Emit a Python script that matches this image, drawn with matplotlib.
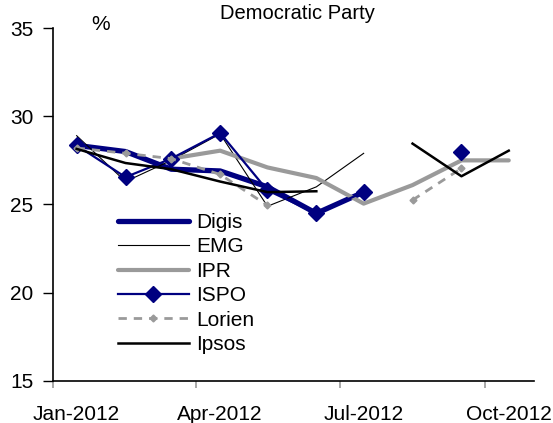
import numpy as np
import matplotlib
matplotlib.use('Agg')
from matplotlib import pyplot as plt
import matplotlib.dates as mdates

plt.rcParams['font.family'] = ['Liberation Sans', 'DejaVu Sans']

months = np.array(['2012-%02d-16' % m for m in range(1, 11)], dtype='datetime64[D]')
nan = np.nan
digis = [28.35, 28.0, 27.0, 26.9, 26.0, 24.5, 25.7, nan, nan, nan]
emg = [28.9, 26.3, 27.5, 29.0, 24.9, 26.0, 27.9, nan, nan, nan]
ipr = [nan, nan, 27.6, 28.05, 27.1, 26.5, 25.05, 26.1, 27.5, 27.5]
ispo = [28.35, 26.55, 27.6, 29.05, 25.8, 24.5, 25.7, nan, 28.0, nan]
lorien = [28.2, 27.9, 27.6, 26.7, 24.95, nan, nan, 25.25, 27.05, nan]
ipsos = [28.15, 27.35, 27.0, 26.3, 25.7, 25.75, nan, 28.45, 26.6, 28.05]

navy = '#000080'
grey = '#9a9a9a'

fig = plt.figure(figsize=(5.53, 4.23), dpi=100)
ax = fig.add_axes([0.0958, 0.0993, 0.8698, 0.8345])

ax.plot(months, digis, color=navy, lw=3.8, solid_capstyle='round', label='Digis')
ax.plot(months, emg, color='black', lw=0.8, label='EMG')
ax.plot(months, ipr, color=grey, lw=3.0, solid_capstyle='round', label='IPR')
ax.plot(months, ispo, color=navy, lw=1.6, marker='D', ms=8, label='ISPO')
ax.plot(months, lorien, color=grey, lw=2.0, ls=(0, (3, 2.5)), marker='D', ms=3.5,
        label='Lorien')
ax.plot(months, ipsos, color='black', lw=1.8, label='Ipsos')

ax.set_xlim(np.datetime64('2012-01-01'), np.datetime64('2012-11-01'))
ax.set_ylim(15, 35)
ax.set_yticks([15, 20, 25, 30, 35])

# ticks on month boundaries, labels centred in the month
ax.xaxis.set_major_locator(mdates.MonthLocator(bymonth=[1, 4, 7, 10]))
ax.xaxis.set_major_formatter(plt.NullFormatter())
ax.xaxis.set_minor_locator(mdates.MonthLocator(bymonth=[1, 4, 7, 10], bymonthday=16))
ax.xaxis.set_minor_formatter(mdates.DateFormatter('%b-%Y'))

for s in ['top', 'right']:
    ax.spines[s].set_visible(False)
ax.spines['left'].set_linewidth(1.2)
ax.spines['bottom'].set_linewidth(1.2)
ax.tick_params(axis='y', length=7, width=1, labelsize=15, pad=7)
ax.tick_params(axis='x', which='major', length=5, width=1.2, color='#999999')
ax.tick_params(axis='x', which='minor', length=0, labelsize=15, pad=17)

fig.text(0.537, 0.969, 'Democratic Party', ha='center', va='center', fontsize=14.5)
fig.text(0.181, 0.941, '%', ha='center', va='center', fontsize=15)

ax.legend(loc='upper left', bbox_to_anchor=(0.135, 0.476), frameon=False,
          fontsize=15, handlelength=3.4, handletextpad=0.34, labelspacing=0.26,
          borderaxespad=0, borderpad=0)

fig.savefig('out.png', dpi=100)
